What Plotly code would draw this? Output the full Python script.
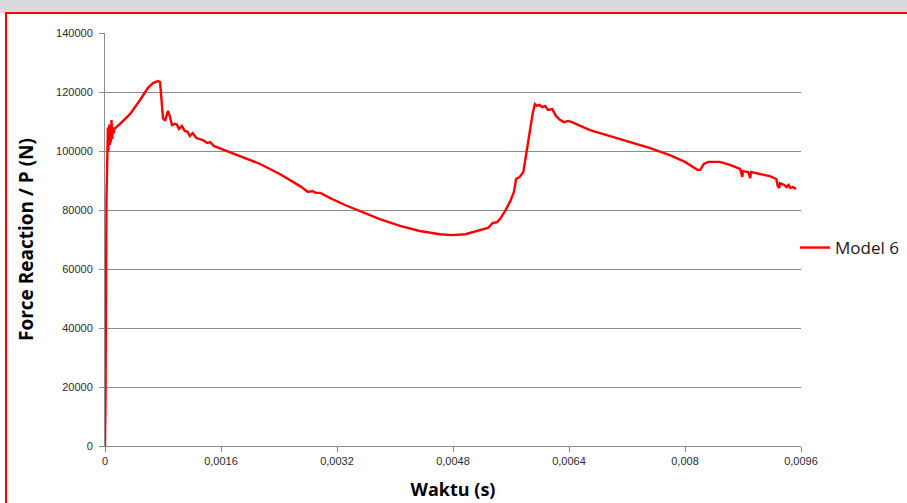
import plotly.graph_objects as go

# Reaction force history for Model 6: time (s) and force (N)
waktu = [
    0.0, 0.000007, 0.00002, 0.000026, 0.00003, 0.000035, 0.00004, 0.000045,
    0.00005, 0.000055, 0.00006, 0.000065, 0.00007, 0.00008, 0.00009, 0.0001,
    0.00011, 0.00012, 0.00013, 0.000207, 0.000345, 0.000483, 0.000593, 0.000662,
    0.000731, 0.000759, 0.0008, 0.000828, 0.000869, 0.000897, 0.000924, 0.000966,
    0.00099, 0.00102, 0.00106, 0.0011, 0.00114, 0.00117, 0.00121, 0.00126,
    0.00131, 0.00135, 0.00141, 0.00145, 0.0015, 0.0016, 0.00186, 0.00214,
    0.00241, 0.00269, 0.0028, 0.00286, 0.00291, 0.00297, 0.0031, 0.00331,
    0.00352, 0.00379, 0.00407, 0.00434, 0.00462, 0.00479, 0.00497, 0.00514,
    0.00528, 0.00535, 0.00541, 0.00545, 0.00552, 0.00559, 0.00564, 0.00567,
    0.00572, 0.00577, 0.00579, 0.00582, 0.00586, 0.0059, 0.00593, 0.00596,
    0.00599, 0.00603, 0.00607, 0.00611, 0.00617, 0.00622, 0.00628, 0.00633,
    0.00639, 0.00644, 0.00669, 0.00697, 0.00724, 0.00752, 0.00779, 0.008,
    0.00817, 0.00821, 0.00826, 0.00832, 0.00848, 0.00862, 0.00876, 0.00879,
    0.0088, 0.00887, 0.0089, 0.00891, 0.00903, 0.00917, 0.00926, 0.00928,
    0.0093, 0.00931, 0.00937, 0.0094, 0.00943, 0.00945, 0.00949, 0.00953,
]
force = [
    0, 15600, 83400, 97000, 103000, 98000, 108000, 100000,
    107000, 101000, 109000, 102000, 107000, 103000, 110500, 104000,
    108000, 106000, 107500, 109200, 112500, 117300, 121400, 123000,
    123700, 123400, 111200, 110200, 113600, 111500, 108800, 109200,
    109000, 107500, 108500, 106800, 106500, 105100, 106100, 104400,
    104100, 103700, 102700, 103000, 101700, 100700, 98300, 95600,
    92200, 88100, 86100, 86400, 85800, 85800, 84100, 81700,
    79700, 76900, 74600, 72900, 71800, 71500, 71800, 72900,
    73900, 75600, 75900, 77000, 79700, 83000, 86100, 90500,
    91200, 92900, 95900, 101000, 107100, 112900, 115900, 115300,
    115600, 114900, 115300, 113900, 114200, 111900, 110500, 109800,
    110200, 109800, 107100, 105100, 103000, 101000, 98600, 96300,
    93600, 93600, 95600, 96300, 96300, 95300, 93900, 91200,
    93200, 92900, 90800, 92900, 92200, 91500, 90500, 88100,
    87500, 89100, 88500, 87800, 88500, 87500, 87800, 87100,
]

x_ticks = [0, 0.0016, 0.0032, 0.0048, 0.0064, 0.008, 0.0096]
x_tick_text = ["0", "0,0016", "0,0032", "0,0048", "0,0064", "0,008", "0,0096"]
y_ticks = [0, 20000, 40000, 60000, 80000, 100000, 120000, 140000]
y_tick_text = [str(v) for v in y_ticks]

W, H = 907, 503
ML, MR, MT, MB = 105, 106, 33, 57
plot_w = W - ML - MR
plot_h = H - MT - MB


def px_x(px):
    return (px - ML) / plot_w


def px_y(py):
    return (H - MB - py) / plot_h


fig = go.Figure()
fig.add_trace(go.Scatter(
    x=waktu, y=force, mode="lines", name="Model 6",
    line=dict(color="#ff0000", width=2.4),
))

tick_font = dict(family="Liberation Sans", size=11, color="#2b2b2b")

fig.update_layout(
    width=W, height=H,
    margin=dict(l=ML, r=MR, t=MT, b=MB, autoexpand=False),
    paper_bgcolor="#ffffff",
    plot_bgcolor="#ffffff",
    showlegend=True,
    legend=dict(
        x=px_x(795), y=px_y(248), xanchor="left", yanchor="middle",
        font=dict(family="Open Sans", size=17, color="#1a1a1a"),
        bgcolor="rgba(0,0,0,0)",
    ),
    xaxis=dict(
        range=[0, 0.0096], tickvals=x_ticks, ticktext=x_tick_text,
        showgrid=False, zeroline=False,
        showline=True, linecolor="#8c8c8c", linewidth=1,
        ticks="outside", ticklen=5, tickcolor="#8c8c8c",
        tickfont=tick_font,
        title=dict(text="<b>Waktu (s)</b>",
                   font=dict(family="Open Sans", size=18, color="#000000"),
                   standoff=17),
    ),
    yaxis=dict(
        range=[0, 140000], tickvals=y_ticks, ticktext=y_tick_text,
        showgrid=True, gridcolor="#8c8c8c", gridwidth=1,
        zeroline=False,
        showline=True, linecolor="#8c8c8c", linewidth=1,
        ticks="outside", ticklen=5, tickcolor="#8c8c8c",
        tickfont=tick_font, ticklabelstandoff=4,
        title=dict(text="<b>Force Reaction / P (N)</b>",
                   font=dict(family="Open Sans", size=19, color="#000000"),
                   standoff=17),
    ),
    shapes=[
        # grey band above the chart frame
        dict(type="rect", xref="paper", yref="paper", layer="below",
             x0=px_x(-5), x1=px_x(W + 5), y0=px_y(13), y1=px_y(-5),
             fillcolor="#d9d9d9", line=dict(width=0)),
        # red chart frame
        dict(type="rect", xref="paper", yref="paper", layer="above",
             x0=px_x(6), x1=px_x(W + 20), y0=px_y(H + 20), y1=px_y(13),
             fillcolor="rgba(0,0,0,0)", line=dict(color="#ff0000", width=2)),
    ],
)

fig.write_html("out.html")
